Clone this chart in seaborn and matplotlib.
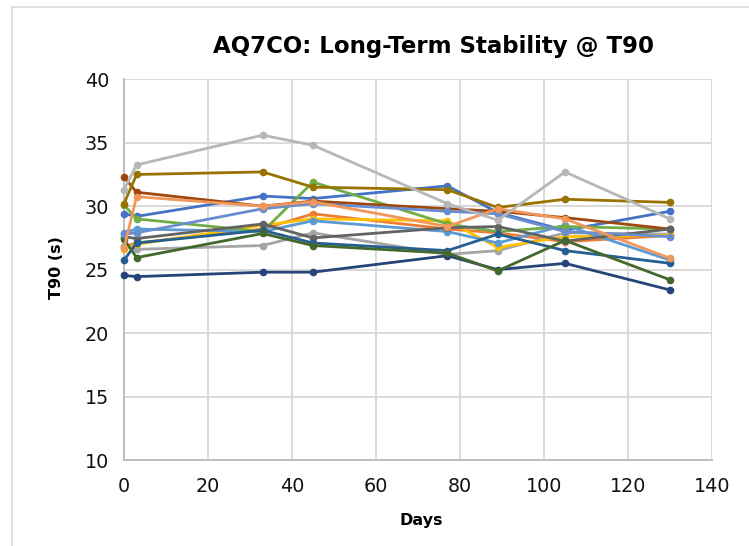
import matplotlib
matplotlib.use("Agg")
import matplotlib.pyplot as plt
import seaborn as sns
import pandas as pd

days = [0, 3, 33, 45, 77, 89, 105, 130]

series_names = [f"S{i}" for i in range(1, 16)]
s01 = [29.4, 29.2, 30.8, 30.6, 31.6, 29.5, 28.1, 29.6]   # blue
s02 = [26.8, 27.1, 28.2, 29.4, 28.2, 27.9, 27.2, 27.7]   # orange
s03 = [26.9, 26.6, 26.9, 27.9, 26.2, 26.5, 27.9, 27.8]   # gray
s04 = [26.6, 27.0, 28.5, 29.0, 28.85, 26.75, 27.6, 27.7] # gold
s05 = [27.9, 28.2, 28.0, 28.85, 28.0, 27.1, 28.5, 25.75] # light blue
s06 = [30.1, 29.0, 28.0, 31.9, 28.6, 28.0, 28.4, 28.2]   # green
s07 = [24.55, 24.45, 24.8, 24.8, 26.1, 25.0, 25.5, 23.4] # dark blue
s08 = [32.3, 31.1, 30.0, 30.4, 29.8, 29.6, 29.1, 28.2]   # brown
s09 = [27.6, 27.45, 28.6, 27.5, 28.3, 28.4, 27.25, 28.2] # dark gray
s10 = [30.2, 32.5, 32.7, 31.5, 31.3, 29.9, 30.55, 30.3]  # dark gold
s11 = [25.75, 27.1, 28.1, 27.1, 26.5, 27.8, 26.5, 25.5]  # mid blue
s12 = [27.4, 25.95, 27.85, 26.9, 26.3, 24.9, 27.3, 24.2] # dark green
s13 = [27.8, 27.9, 29.8, 30.2, 29.6, 29.4, 28.0, 27.6]   # light blue 2
s14 = [26.7, 30.75, 30.0, 30.35, 28.4, 29.8, 29.0, 25.9] # light orange
s15 = [31.3, 33.25, 35.6, 34.8, 30.2, 28.9, 32.7, 29.0]  # light gray
all_series = [s01, s02, s03, s04, s05, s06, s07, s08, s09, s10, s11, s12, s13, s14, s15]

colors = ["#4472C4", "#ED7D31", "#A5A5A5", "#FFC000", "#5B9BD5", "#70AD47",
          "#264478", "#9E480E", "#636363", "#997300", "#255E91", "#43682B",
          "#698ED0", "#F1975A", "#B7B7B7"]

title = "AQ7CO: Long-Term Stability @ T90"
xlabel = "Days"
ylabel = "T90 (s)"
xticks = [0, 20, 40, 60, 80, 100, 120, 140]
yticks = [10, 15, 20, 25, 30, 35, 40]

rows = []
for name, vals in zip(series_names, all_series):
    for d, v in zip(days, vals):
        rows.append({"sensor": name, "day": d, "t90": v})
df = pd.DataFrame(rows)

sns.set_theme(style="white")
plt.rcParams["font.family"] = ["DejaVu Sans"]
plt.rcParams["text.color"] = "black"
plt.rcParams["axes.labelcolor"] = "black"

W, H = 749, 546
fig = plt.figure(figsize=(W / 100, H / 100), dpi=100)
x0, x1, y_top, y_bot = 124, 712, 79.3, 460
ax = fig.add_axes([x0 / W, 1 - y_bot / H, (x1 - x0) / W, (y_bot - y_top) / H])

sns.lineplot(data=df, x="day", y="t90", hue="sensor", hue_order=series_names,
             palette=colors, estimator=None, sort=False, marker="o",
             markersize=5.5, markeredgewidth=0, linewidth=2.0, legend=False, ax=ax,
             zorder=3)
for ln in ax.lines:
    ln.set_clip_on(False)

ax.set_xlim(0, 140)
ax.set_ylim(10, 40)
ax.set_xticks(xticks)
ax.set_yticks(yticks)
ax.grid(True, color="#D9D9D9", linewidth=1.4, zorder=0)
ax.set_axisbelow(True)
for side in ["top", "right"]:
    ax.spines[side].set_visible(False)
for side in ["left", "bottom"]:
    ax.spines[side].set_color("#BFBFBF")
    ax.spines[side].set_linewidth(1.4)
ax.tick_params(axis="both", length=0, labelsize=13.8, colors="#111111")
ax.tick_params(axis="y", pad=10.8)
ax.tick_params(axis="x", pad=12.2)

ax.set_xlabel(xlabel, fontsize=11.5, fontweight="bold", color="black")
ax.set_ylabel(ylabel, fontsize=11.5, fontweight="bold", color="black")
ax.xaxis.label.set_va("center")
ax.yaxis.label.set_va("center")
ax.xaxis.set_label_coords((421 - x0) / (x1 - x0), (y_bot - 520) / (y_bot - y_top))
ax.yaxis.set_label_coords((57 - x0) / (x1 - x0), (y_bot - 268) / (y_bot - y_top))

fig.text(433 / W, 1 - 53.3 / H, title, ha="center", va="baseline",
         fontsize=16.5, fontweight="bold", color="black")

# chart area border (top and left visible)
fig.add_artist(plt.Line2D([12 / W, 12 / W], [0, 1 - 7 / H], color="#D9D9D9",
                          linewidth=1.2, transform=fig.transFigure))
fig.add_artist(plt.Line2D([12 / W, 1], [1 - 7 / H, 1 - 7 / H], color="#D9D9D9",
                          linewidth=1.2, transform=fig.transFigure))

fig.savefig("out.png", dpi=100, facecolor="white")
